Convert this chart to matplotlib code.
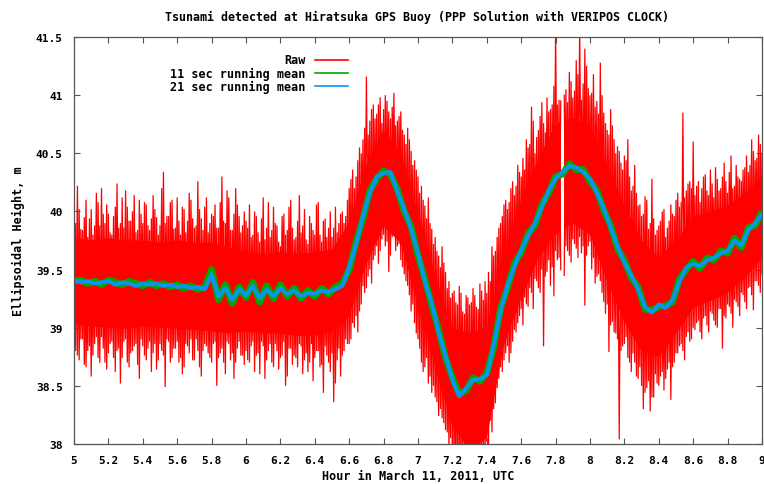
import numpy as np
import matplotlib
matplotlib.use("Agg")
import matplotlib.pyplot as plt

# ---------------- data ----------------
# Raw series, read as alternating upper / lower excursions.
# trace A: upper at 5.00+0.02*i, lower at 5.01+0.02*i
# trace B: lower at 5.00+0.02*i, upper at 5.01+0.02*i
raw_step = 0.02
rawA_hi = [
    40.05, 40.22, 39.85, 39.95, 39.78, 40.02, 39.88, 40.08, 40.20, 39.90,
    39.98, 39.80, 40.04, 39.86, 40.12, 40.18, 39.92, 40.00, 39.82, 40.10,
    39.90, 40.06, 39.84, 40.14, 39.95, 39.88, 40.34, 39.96, 40.08, 39.85,
    40.12, 39.80, 40.02, 39.92, 40.10, 39.86, 40.26, 39.94, 40.04, 39.82,
    39.98, 40.06, 39.86, 40.30, 39.90, 40.12, 39.84, 40.20, 39.96, 39.88,
    39.92, 40.06, 39.80, 39.96, 39.74, 40.12, 39.86, 39.78, 40.04, 39.88,
    39.70, 39.98, 39.84, 40.10, 39.76, 39.92, 39.82, 40.02, 39.72, 39.90,
    39.80, 40.08, 39.74, 39.94, 39.86, 39.78, 40.04, 39.90, 40.00, 39.96,
    40.20, 40.36, 40.30, 40.55, 40.62, 41.16, 40.78, 40.92, 40.84, 40.98,
    40.88, 40.95, 40.80, 41.02, 40.78, 40.86, 40.66, 40.72, 40.52, 40.44,
    40.30,
    40.22, 40.05, 40.12, 39.85, 39.78, 39.62, 39.70, 39.48, 39.40, 39.30,
    39.22, 39.36, 39.14, 39.28, 39.20, 39.34, 39.18, 39.38, 39.24, 39.30,
    39.40, 39.62, 39.78, 39.90, 40.06, 40.02, 40.20, 40.14, 40.40, 40.30,
    40.36, 40.55, 40.90, 40.50, 40.70, 40.94, 40.68, 40.86, 40.92, 41.60,
    40.96, np.nan, 41.05, 41.20, 40.98, 41.30, 41.62, 41.10, 41.25, 41.00,
    41.18, 40.95, 41.28, 40.85, 40.70, 40.88, 40.62, 40.56, 40.42, 40.48,
    40.62, 40.18, 40.40, 40.05, 39.96, 40.13, 39.85, 40.28, 39.80, 39.88,
    40.00, 39.78, 39.92, 39.98, 40.10, 40.04, 40.85, 40.18, 40.26, 40.60,
    40.22, 40.08, 40.30, 40.18, 40.36, 40.12, 40.28, 40.20, 40.42, 40.16,
    40.48, 40.22, 40.30, 40.26, 40.38, 40.34, 40.62, 40.44, 40.66, 40.50,
]
rawA_lo = [
    38.80, 38.72, 38.90, 38.66, 38.84, 38.76, 38.92, 38.70, 38.82, 38.64,
    38.86, 38.74, 38.80, 38.52, 38.88, 38.70, 38.78, 38.84, 38.68, 38.90,
    38.76, 38.82, 38.62, 38.86, 38.72, 38.80, 38.49, 38.88, 38.74, 38.82,
    38.70, 38.60, 38.86, 38.78, 38.72, 38.90, 38.66, 38.80, 38.84, 38.74,
    38.86, 38.50, 38.78, 38.70, 38.88, 38.72, 38.56, 38.82, 38.76, 38.68,
    38.72, 38.84, 38.62, 38.78, 38.88, 38.56, 38.80, 38.70, 38.86, 38.64,
    38.76, 38.50, 38.82, 38.68, 38.74, 38.86, 38.60, 38.78, 38.70, 38.54,
    38.80, 38.66, 38.44, 38.76, 38.62, 38.36, 38.72, 38.58, 38.80, 38.86,
    38.90, 39.00, 38.96, 39.20, 39.30, 39.44, 39.38, 39.62, 39.55, 39.76,
    39.70, 39.48, 39.78, 39.66, 39.72, 39.52, 39.40, 39.28, 39.20, 38.95,
    38.82, 38.62, 38.74, 38.58, 38.50, 38.36, 38.30, 38.18, 38.10, 38.05,
    37.90, 37.80, 37.85, 37.78, 37.90, 37.82, 37.75, 37.88, 37.80, 37.92,
    37.98, 38.10, 38.35, 38.56, 38.62, 38.78, 38.70, 38.88, 38.96, 39.10,
    39.02, 39.20, 39.34, 39.16, 39.40, 39.30, 38.84, 39.48, 39.36, 39.27,
    39.58, 39.50, 39.45, 39.66, 39.56, 39.72, 39.60, 39.64, 39.19, 39.70,
    39.50, 39.38, 39.46, 39.30, 39.12, 38.79, 39.05, 38.95, 38.04, 38.84,
    38.92, 38.70, 38.78, 38.58, 38.66, 38.30, 38.48, 38.28, 38.40, 38.52,
    38.58, 38.46, 38.64, 38.38, 38.70, 38.78, 38.86, 38.72, 38.96, 38.90,
    38.98, 39.06, 38.90, 39.10, 38.96, 39.12, 39.02, 39.16, 38.82, 39.08,
    39.18, 39.00, 39.22, 39.10, 39.28, 39.16, 39.35, 39.15, 39.40, 39.30,
]
rawB_lo = [
    38.84, 38.76, 38.90, 38.68, 38.80, 38.58, 38.86, 38.74, 38.92, 38.70,
    38.78, 38.88, 38.62, 38.82, 38.74, 38.90, 38.66, 38.80, 38.86, 38.56,
    38.84, 38.72, 38.88, 38.78, 38.64, 38.86, 38.76, 38.90, 38.70, 38.82,
    38.88, 38.74, 38.66, 38.84, 38.90, 38.72, 38.80, 38.58, 38.86, 38.78,
    38.70, 38.88, 38.74, 38.82, 38.60, 38.86, 38.78, 38.70, 38.88, 38.76,
    38.80, 38.70, 38.88, 38.76, 38.60, 38.84, 38.72, 38.86, 38.66, 38.80,
    38.74, 38.88, 38.58, 38.82, 38.76, 38.66, 38.84, 38.72, 38.62, 38.86,
    38.74, 38.80, 38.68, 38.84, 38.70, 38.78, 38.52, 38.82, 38.76, 38.90,
    38.86, 39.04, 39.10, 39.14, 39.36, 39.34, 39.50, 39.58, 39.70, 39.66,
    39.80, 39.74, 39.62, 39.82, 39.70, 39.58, 39.46, 39.36, 39.14, 39.04,
    38.90,
    38.70, 38.66, 38.52, 38.44, 38.40, 38.24, 38.22, 38.12, 37.96, 37.88,
    37.84, 37.80, 37.92, 37.86, 37.80, 37.84, 37.90, 37.82, 37.94, 38.02,
    38.20, 38.30, 38.48, 38.66, 38.72, 38.84, 38.78, 38.98, 39.04, 39.16,
    39.26, 39.18, 39.30, 39.42, 39.34, 39.50, 39.44, 39.58, 39.52, 39.66,
    39.60, np.nan, 39.70, 39.62, 39.76, 39.68, 39.78, 39.70, 39.62, 39.74,
    39.60, 39.44, 39.40, 39.22, 39.20, 39.02, 38.96, 38.90, 38.80, 38.86,
    38.74, 38.62, 38.70, 38.56, 38.50, 38.44, 38.54, 38.40, 38.60, 38.50,
    38.62, 38.56, 38.70, 38.66, 38.78, 38.84, 38.80, 38.92, 38.88, 39.00,
    39.04, 38.96, 39.08, 39.02, 39.14, 39.06, 39.00, 39.16, 39.10, 39.20,
    39.12, 39.24, 39.18, 39.30, 39.22, 39.34, 39.28, 39.40, 39.36, 39.46,
]
rawB_hi = [
    39.90, 40.02, 39.84, 40.10, 39.94, 39.80, 40.16, 39.88, 39.98, 40.06,
    39.82, 39.96, 40.24, 39.90, 39.86, 40.04, 39.92, 40.14, 39.84, 39.98,
    40.08, 39.88, 39.94, 40.02, 39.80, 40.20, 39.90, 39.96, 40.10, 39.86,
    39.92, 40.04, 39.82, 40.16, 39.94, 39.88, 40.02, 39.84, 40.12, 39.90,
    39.96, 39.86, 40.08, 39.92, 40.18, 39.84, 39.98, 40.06, 39.82, 40.00,
    39.86, 39.78, 40.00, 39.82, 39.94, 39.76, 40.08, 39.84, 39.90, 39.74,
    39.96, 39.80, 40.04, 39.86, 39.78, 40.14, 39.88, 39.76, 39.96, 39.84,
    40.06, 39.80, 39.92, 39.78, 40.00, 39.86, 39.82, 39.98, 39.90, 40.10,
    40.28, 40.20, 40.44, 40.50, 40.72, 40.66, 40.88, 40.80, 40.92, 40.76,
    41.00, 40.86, 40.90, 40.74, 40.82, 40.70, 40.58, 40.62, 40.40, 40.36,
    40.16, 40.10, 39.94, 39.90, 39.72, 39.66, 39.52, 39.56, 39.34, 39.26,
    39.32, 39.20, 39.30, 39.12, 39.26, 39.22, 39.28, 39.16, 39.32, 39.40,
    39.48, 39.70, 39.66, 39.86, 39.96, 40.10, 40.08, 40.26, 40.22, 40.34,
    40.46, 40.62, 40.58, 40.78, 40.64, 40.82, 40.76, 40.98, 40.88, 41.08,
    40.92, 40.95, 41.00, 40.94, 41.12, 41.04, 41.18, 40.96, 41.40, 41.06,
    41.02, 40.90, 40.84, 41.00, 40.76, 40.66, 40.74, 40.50, 40.52, 40.36,
    40.44, 40.30, 40.22, 40.16, 40.06, 39.98, 40.10, 39.90, 39.94, 39.84,
    39.92, 40.02, 39.86, 40.06, 39.96, 40.16, 40.08, 40.12, 40.24, 40.20,
    40.14, 40.26, 40.20, 40.32, 40.14, 40.24, 40.38, 40.18, 40.30, 40.26,
    40.34, 40.20, 40.40, 40.28, 40.36, 40.48, 40.40, 40.52, 40.46, 40.58,
]

# dense (solid) part of the raw trace: upper / lower edge
core_t = [5.0, 5.1, 5.2, 5.3, 5.4, 5.5, 5.6, 5.7, 5.8, 5.9,
          6.0, 6.1, 6.2, 6.3, 6.4, 6.5, 6.6, 6.7, 6.8, 6.9,
          7.0, 7.1, 7.2, 7.3, 7.4, 7.5, 7.6, 7.7, 7.8, 7.83,
          7.84, 7.85, 7.9, 8.0, 8.1, 8.2, 8.3, 8.4, 8.5, 8.6,
          8.7, 8.8, 8.9, 9.0]
core_hi = [39.77, 39.75, 39.77, 39.75, 39.75, 39.73, 39.75, 39.73, 39.73, 39.69,
           39.65, 39.63, 39.65, 39.63, 39.65, 39.67, 39.90, 40.40, 40.70, 40.50,
           40.00, 39.45, 39.00, 38.95, 39.00, 39.65, 40.10, 40.45, 40.75, 40.77,
           np.nan, 40.79, 40.80, 40.73, 40.40, 40.05, 39.75, 39.60, 39.75, 39.95,
           40.00, 40.05, 40.15, 40.30]
core_lo = [39.03, 39.01, 39.00, 38.99, 39.01, 39.00, 38.99, 38.98, 38.97, 38.95,
           38.97, 38.95, 38.95, 38.93, 38.93, 38.97, 39.10, 39.55, 39.87, 39.73,
           39.20, 38.67, 38.15, 37.95, 38.05, 38.85, 39.25, 39.60, 39.80, 39.83,
           np.nan, 39.85, 39.90, 39.80, 39.40, 39.05, 38.80, 38.75, 38.95, 39.17,
           39.23, 39.30, 39.43, 39.60]

# running means, sampled every 0.04 h from 5.00 to 9.00
mean_t0, mean_step = 5.00, 0.04
mean21 = [
    39.41, 39.39, 39.40, 39.38, 39.39, 39.40, 39.37, 39.39, 39.38, 39.36,
    39.38, 39.37, 39.38, 39.36, 39.37, 39.35, 39.36, 39.34, 39.35, 39.33,
    39.46, 39.27, 39.34, 39.24, 39.33, 39.28, 39.36, 39.25, 39.33, 39.27,
    39.34, 39.29, 39.32, 39.27, 39.30, 39.29, 39.32, 39.31, 39.33, 39.36,
    39.52, 39.72, 39.96, 40.16, 40.30, 40.33, 40.34, 40.17, 40.02, 39.85,
    39.64, 39.40, 39.21, 38.96, 38.76, 38.55, 38.41, 38.48, 38.55, 38.56,
    38.59, 38.85, 39.15, 39.36, 39.53, 39.67, 39.79, 39.90, 40.04, 40.18,
    40.28, 40.34, 40.39, 40.38, 40.34, 40.28, 40.16, 40.03, 39.86, 39.70,
    39.56, 39.45, 39.33, 39.18, 39.13, 39.20, 39.17, 39.24, 39.40, 39.52,
    39.55, 39.53, 39.58, 39.60, 39.64, 39.66, 39.75, 39.71, 39.84, 39.90,
    39.98,
]
mean11 = [
    39.40, 39.41, 39.38, 39.40, 39.37, 39.41, 39.39, 39.37, 39.40, 39.38,
    39.36, 39.39, 39.36, 39.38, 39.35, 39.37, 39.34, 39.36, 39.33, 39.35,
    39.50, 39.24, 39.37, 39.21, 39.35, 39.26, 39.39, 39.22, 39.36, 39.25,
    39.37, 39.27, 39.34, 39.25, 39.32, 39.27, 39.34, 39.29, 39.35, 39.38,
    39.50, 39.74, 39.94, 40.18, 40.28, 40.35, 40.32, 40.19, 40.00, 39.87,
    39.62, 39.42, 39.19, 38.98, 38.74, 38.57, 38.43, 38.46, 38.57, 38.54,
    38.61, 38.83, 39.17, 39.34, 39.55, 39.65, 39.81, 39.88, 40.06, 40.16,
    40.30, 40.32, 40.41, 40.36, 40.36, 40.26, 40.18, 40.01, 39.88, 39.68,
    39.58, 39.43, 39.35, 39.16, 39.15, 39.18, 39.19, 39.22, 39.42, 39.50,
    39.57, 39.51, 39.60, 39.58, 39.66, 39.64, 39.77, 39.69, 39.86, 39.88,
    40.00,
]

title = "Tsunami detected at Hiratsuka GPS Buoy (PPP Solution with VERIPOS CLOCK)"
xlabel = "Hour in March 11, 2011, UTC"
ylabel = "Ellipsoidal Height, m"
series_names = ["Raw", "11 sec running mean", "21 sec running mean"]
x_ticks = [5, 5.2, 5.4, 5.6, 5.8, 6, 6.2, 6.4, 6.6, 6.8, 7, 7.2, 7.4, 7.6, 7.8, 8,
           8.2, 8.4, 8.6, 8.8, 9]
y_ticks = [38, 38.5, 39, 39.5, 40, 40.5, 41, 41.5]

# ---------------- plotting ----------------
FONT = "DejaVu Sans Mono"
plt.rcParams["font.family"] = FONT
plt.rcParams["font.weight"] = "bold"

W, H = 764, 485
fig = plt.figure(figsize=(W / 100, H / 100), dpi=100)
ax = fig.add_axes([74 / W, 1 - 445 / H, (762 - 74) / W, (445 - 38) / H])

c_raw, c_11, c_21 = "#ff0000", "#00aa00", "#0a94f0"

# solid part of the raw trace
ax.fill_between(core_t, core_lo, core_hi, color=c_raw, lw=0)


def zigzag(first, second, t_first, t_second):
    xs, ys = [], []
    for i in range(len(first)):
        xs.append(t_first + raw_step * i); ys.append(first[i])
        if i < len(second):
            xs.append(t_second + raw_step * i); ys.append(second[i])
    return xs, ys


xa, ya = zigzag(rawA_hi, rawA_lo, 5.00, 5.01)
xb, yb = zigzag(rawB_lo, rawB_hi, 5.00, 5.01)
ax.plot(xa, ya, color=c_raw, lw=0.9, solid_joinstyle="miter")
ax.plot(xb, yb, color=c_raw, lw=0.9, solid_joinstyle="miter")

mt = mean_t0 + mean_step * np.arange(len(mean21))
ax.plot(mt, mean11, color=c_11, lw=4.8, solid_capstyle="butt")
ax.plot(mt, mean21, color=c_21, lw=2.8, solid_capstyle="butt")

ax.set_xlim(5, 9)
ax.set_ylim(38, 41.5)
ax.set_xticks(x_ticks)
ax.set_xticklabels([f"{v:g}" for v in x_ticks])
ax.set_yticks(y_ticks)
ax.set_yticklabels([f"{v:g}" for v in y_ticks])
ax.tick_params(direction="in", length=4, width=0.8, color="#555555",
               top=True, right=True, labelsize=8)
ax.tick_params(axis="y", pad=8)
ax.tick_params(axis="x", pad=8)
for s in ax.spines.values():
    s.set_color("#555555")
    s.set_linewidth(0.9)
for lab in ax.get_xticklabels() + ax.get_yticklabels():
    lab.set_fontweight("bold")

fig.text(417 / W, 1 - 17 / H, title, ha="center", va="center", fontsize=8.4,
         fontweight="bold")
fig.text(418 / W, 1 - 477 / H, xlabel, ha="center", va="center", fontsize=8.5,
         fontweight="bold")
fig.text(18 / W, 1 - 241 / H, ylabel, ha="center", va="center", rotation=90,
         fontsize=8.5, fontweight="bold")

# legend (gnuplot style: right-aligned text, sample line to the right)
leg_y = [0.9435, 0.9115, 0.8796]
for name, col, yy in zip(series_names, [c_raw, c_11, c_21], leg_y):
    ax.text(0.337, yy, name, transform=ax.transAxes, ha="right", va="center",
            fontsize=8.5, fontweight="bold")
    ax.plot([0.350, 0.398], [yy, yy], transform=ax.transAxes, color=col,
            lw=1.2, clip_on=False)

fig.savefig("out.png", dpi=100)
